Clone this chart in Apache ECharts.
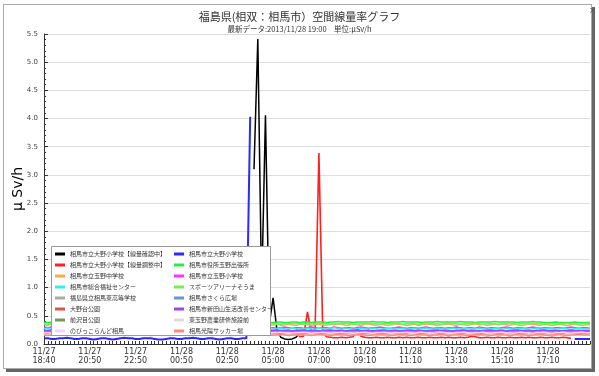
<!DOCTYPE html>
<html><head><meta charset="utf-8">
<script src="https://cdn.jsdelivr.net/npm/echarts@6/dist/echarts.min.js"></script>
<style>
html,body{margin:0;padding:0;background:#fff;width:599px;height:376px;overflow:hidden;}
#frame{position:absolute;left:3px;top:4px;width:587px;height:363px;border:1px solid #aaa;box-shadow:3px 3px 0 #666;background:#fff;}
#c{position:absolute;left:0;top:0;width:599px;height:376px;}
</style></head>
<body><div id="frame"></div><div id="c"></div>
<script>
const times = [
'11/27 18:40','11/27 18:50','11/27 19:00','11/27 19:10','11/27 19:20','11/27 19:30','11/27 19:40','11/27 20:00','11/27 20:10','11/27 20:20','11/27 20:30','11/27 20:40',
'11/27 20:50','11/27 21:00','11/27 21:10','11/27 21:20','11/27 21:30','11/27 21:40','11/27 21:50','11/27 22:00','11/27 22:10','11/27 22:20','11/27 22:30','11/27 22:40',
'11/27 22:50','11/27 23:00','11/27 23:10','11/27 23:20','11/27 23:30','11/27 23:40','11/27 23:50','11/28 00:00','11/28 00:10','11/28 00:20','11/28 00:30','11/28 00:40',
'11/28 00:50','11/28 01:00','11/28 01:10','11/28 01:20','11/28 01:30','11/28 01:40','11/28 01:50','11/28 02:00','11/28 02:10','11/28 02:20','11/28 02:30','11/28 02:40',
'11/28 02:50','11/28 03:00','11/28 03:10','11/28 03:20','11/28 03:30','11/28 03:40','11/28 03:50','11/28 04:10','11/28 04:20','11/28 04:30','11/28 04:40','11/28 04:50',
'11/28 05:00','11/28 05:10','11/28 05:20','11/28 05:30','11/28 05:40','11/28 05:50','11/28 06:00','11/28 06:10','11/28 06:20','11/28 06:30','11/28 06:40','11/28 06:50',
'11/28 07:00','11/28 07:10','11/28 07:20','11/28 07:30','11/28 07:40','11/28 07:50','11/28 08:10','11/28 08:20','11/28 08:30','11/28 08:40','11/28 08:50','11/28 09:00',
'11/28 09:10','11/28 09:20','11/28 09:30','11/28 09:40','11/28 09:50','11/28 10:00','11/28 10:10','11/28 10:20','11/28 10:30','11/28 10:40','11/28 10:50','11/28 11:00',
'11/28 11:10','11/28 11:20','11/28 11:30','11/28 11:40','11/28 11:50','11/28 12:00','11/28 12:10','11/28 12:20','11/28 12:30','11/28 12:40','11/28 12:50','11/28 13:00',
'11/28 13:10','11/28 13:20','11/28 13:30','11/28 13:40','11/28 13:50','11/28 14:00','11/28 14:10','11/28 14:20','11/28 14:30','11/28 14:40','11/28 14:50','11/28 15:00',
'11/28 15:10','11/28 15:20','11/28 15:30','11/28 15:40','11/28 15:50','11/28 16:00','11/28 16:10','11/28 16:20','11/28 16:30','11/28 16:40','11/28 16:50','11/28 17:00',
'11/28 17:10','11/28 17:20','11/28 17:30','11/28 17:40','11/28 17:50','11/28 18:00','11/28 18:10','11/28 18:20','11/28 18:30','11/28 18:40','11/28 18:50','11/28 19:00'
];

// 相馬市立大野小学校【線量確認中】 (starts at index 55)
const blackStart = 55;
const black = [3.10,5.41,0.90,4.06,0.35,0.82,0.25,0.12,0.09,0.08,0.09,0.12,0.20];
// 相馬市立大野小学校 : head (index 0-54), gap, tail (index 139-143)
const blueHead = [
.10,.10,.09,.09,.10,.10,.11,.10,.09,.09,.10,.10,
.09,.08,.09,.10,.10,.09,.08,.09,.10,.11,.10,.10,
.09,.09,.10,.10,.10,.09,.08,.08,.09,.10,.10,.09,
.09,.10,.10,.11,.10,.09,.09,.10,.10,.09,.08,.09,
.10,.10,.09,.09,.10,.10,4.03];
const blueTail = [.09,.09,.09,.09,.09];
// 相馬市立大野小学校【線量調整中】 (index 66-138)
const redStart = 66;
const red = [
.28,.13,.14,.57,.20,.25,3.39,.22,
.13,.12,.11,.11,.12,.11,.12,.13,.30,.14,.12,.11,
.11,.12,.11,.11,.12,.11,.11,.12,.11,.12,.11,.11,
.12,.11,.11,.12,.11,.11,.12,.11,.12,.11,.11,.12,
.11,.12,.14,.13,.11,.11,.12,.11,.11,.12,.11,.11,
.12,.11,.11,.12,.11,.12,.11,.11,.12,.11,.11,.12,
.11,.11,.12,.11,.10];

const tamanoOffice = [
.38,.38,.39,.38,.38,.37,.38,.38,.39,.38,.38,.38,
.38,.39,.38,.38,.38,.39,.38,.37,.38,.38,.39,.38,
.38,.38,.38,.39,.38,.38,.38,.37,.38,.38,.38,.39,
.38,.38,.39,.38,.38,.38,.37,.38,.38,.39,.38,.38,
.38,.38,.38,.39,.38,.38,.39,.38,.38,.38,.39,.38,
.38,.39,.39,.38,.38,.39,.39,.38,.39,.39,.38,.39,
.39,.39,.38,.39,.39,.40,.39,.39,.39,.38,.39,.39,
.39,.39,.40,.39,.39,.39,.38,.39,.39,.39,.40,.39,
.39,.39,.39,.38,.39,.39,.39,.40,.39,.39,.39,.39,
.39,.40,.39,.39,.39,.38,.39,.39,.39,.39,.40,.39,
.39,.39,.39,.39,.38,.39,.39,.39,.40,.39,.39,.38,
.38,.38,.39,.38,.38,.38,.38,.39,.38,.38,.38,.38];
const sportsArena = [
.36,.35,.36,.36,.35,.36,.36,.37,.36,.35,.36,.36,
.36,.36,.35,.36,.37,.36,.36,.35,.36,.36,.36,.37,
.36,.35,.36,.36,.36,.35,.36,.37,.36,.36,.35,.36,
.36,.36,.37,.36,.35,.36,.36,.36,.35,.36,.37,.36,
.36,.35,.36,.36,.37,.36,.36,.35,.36,.36,.37,.36,
.36,.36,.35,.36,.36,.37,.36,.36,.35,.36,.36,.36,
.37,.36,.36,.35,.36,.36,.36,.37,.36,.36,.35,.36,
.36,.37,.36,.36,.35,.36,.36,.36,.37,.36,.35,.36,
.36,.36,.35,.36,.37,.36,.36,.36,.35,.36,.36,.37,
.36,.35,.36,.36,.36,.37,.36,.35,.36,.36,.36,.35,
.36,.36,.37,.36,.35,.36,.36,.36,.37,.36,.36,.35,
.36,.36,.35,.36,.36,.37,.36,.36,.35,.36,.36,.36];
const tamanoJHS = [
.34,.33,.35,.34,.32,.33,.35,.34,.33,.34,.36,.34,
.33,.34,.35,.33,.32,.34,.35,.34,.33,.35,.34,.33,
.34,.35,.33,.32,.34,.35,.36,.34,.33,.34,.35,.33,
.34,.33,.35,.34,.33,.32,.34,.35,.34,.33,.34,.35,
.33,.34,.35,.34,.33,.34,.35,.33,.34,.36,.34,.33,
.34,.35,.33,.34,.35,.34,.33,.35,.36,.34,.33,.34,
.35,.34,.33,.35,.34,.36,.35,.33,.34,.35,.34,.33,
.35,.36,.34,.33,.35,.34,.33,.34,.36,.35,.34,.33,
.34,.35,.33,.34,.36,.35,.34,.33,.34,.35,.36,.34,
.33,.35,.34,.33,.35,.36,.34,.35,.33,.34,.35,.34,
.36,.34,.33,.35,.34,.33,.34,.36,.35,.34,.33,.35,
.34,.33,.34,.35,.34,.33,.34,.35,.34,.33,.34,.34];
const tamanoES = [
.30,.29,.30,.30,.29,.30,.31,.30,.29,.30,.30,.29,
.30,.30,.29,.30,.31,.30,.29,.30,.29,.30,.30,.31,
.30,.29,.30,.30,.29,.28,.30,.30,.31,.30,.29,.30,
.29,.30,.30,.31,.30,.29,.30,.29,.30,.30,.29,.30,
.30,.31,.30,.29,.30,.30,.29,.30,.30,.29,.28,.29,
.29,.28,.29,.30,.29,.28,.29,.29,.28,.29,.30,.29,
.28,.29,.29,.28,.30,.29,.28,.29,.29,.28,.29,.30,
.29,.28,.29,.29,.30,.29,.28,.28,.29,.30,.29,.28,
.29,.29,.28,.29,.30,.29,.28,.29,.29,.28,.29,.29,
.30,.29,.28,.29,.29,.28,.30,.29,.28,.29,.29,.28,
.29,.30,.29,.28,.29,.29,.28,.29,.30,.29,.28,.29,
.29,.28,.29,.29,.28,.29,.30,.29,.28,.29,.29,.28];
const welfare = [
.27,.28,.26,.27,.28,.27,.26,.28,.27,.26,.27,.28,
.27,.26,.28,.27,.26,.27,.28,.27,.26,.27,.28,.26,
.27,.28,.27,.26,.27,.28,.27,.26,.28,.27,.26,.27,
.28,.27,.26,.27,.28,.27,.26,.27,.28,.26,.27,.28,
.27,.26,.28,.27,.26,.27,.28,.27,.26,.27,.29,.27,
.26,.27,.28,.27,.26,.28,.27,.26,.27,.28,.27,.26,
.28,.27,.26,.27,.29,.27,.26,.28,.27,.26,.27,.28,
.27,.26,.28,.27,.26,.27,.28,.27,.26,.27,.28,.26,
.27,.28,.26,.27,.28,.27,.26,.28,.27,.26,.27,.28,
.27,.26,.27,.28,.26,.27,.28,.27,.26,.27,.28,.27,
.26,.28,.27,.26,.27,.28,.27,.26,.27,.28,.26,.27,
.28,.27,.26,.27,.28,.27,.26,.27,.28,.27,.26,.27];
const lifeCenter = [
.24,.24,.25,.24,.24,.23,.24,.24,.25,.24,.24,.24,
.24,.25,.24,.24,.23,.24,.24,.25,.24,.24,.24,.23,
.24,.24,.25,.24,.24,.24,.23,.24,.24,.25,.24,.24,
.24,.23,.24,.24,.25,.24,.24,.24,.23,.24,.24,.25,
.24,.24,.24,.23,.24,.24,.25,.24,.24,.24,.23,.24,
.24,.25,.24,.24,.24,.23,.24,.24,.25,.24,.24,.24,
.23,.24,.24,.25,.24,.24,.24,.23,.24,.24,.25,.24,
.24,.24,.23,.24,.24,.25,.24,.24,.24,.23,.24,.24,
.25,.24,.24,.24,.23,.24,.24,.25,.24,.24,.24,.23,
.24,.24,.25,.24,.24,.24,.23,.24,.24,.25,.24,.24,
.24,.23,.24,.24,.25,.24,.24,.24,.23,.24,.24,.25,
.24,.24,.24,.23,.24,.24,.25,.24,.24,.24,.23,.24];
const plaza = [
.23,.23,.22,.23,.24,.23,.23,.22,.23,.23,.24,.23,
.23,.22,.23,.23,.24,.23,.22,.23,.23,.23,.24,.23,
.22,.23,.23,.24,.23,.23,.22,.23,.24,.23,.23,.22,
.23,.24,.23,.23,.22,.23,.23,.24,.23,.22,.23,.23,
.24,.23,.23,.22,.23,.24,.23,.23,.22,.23,.23,.24,
.23,.23,.22,.23,.24,.23,.23,.23,.22,.23,.24,.23,
.23,.22,.23,.23,.24,.23,.22,.23,.23,.24,.23,.23,
.22,.23,.24,.23,.23,.22,.23,.23,.24,.23,.23,.22,
.23,.23,.24,.23,.22,.23,.23,.24,.23,.23,.22,.23,
.24,.23,.23,.22,.23,.23,.24,.23,.22,.23,.23,.24,
.23,.22,.23,.24,.23,.23,.22,.23,.23,.24,.23,.23,
.22,.23,.23,.24,.23,.22,.23,.23,.24,.23,.23,.23];
const higashiHS = [
.21,.21,.22,.21,.20,.21,.21,.22,.21,.21,.20,.21,
.22,.21,.21,.20,.21,.22,.21,.21,.21,.20,.21,.22,
.21,.20,.21,.21,.22,.21,.21,.20,.21,.21,.22,.21,
.20,.21,.22,.21,.21,.20,.21,.21,.22,.21,.20,.21,
.21,.22,.21,.20,.21,.21,.22,.21,.21,.20,.21,.22,
.21,.21,.20,.21,.22,.21,.21,.21,.20,.21,.22,.21,
.21,.20,.21,.22,.21,.21,.20,.21,.21,.22,.21,.21,
.20,.21,.22,.21,.21,.20,.21,.22,.21,.21,.21,.20,
.21,.22,.21,.20,.21,.21,.22,.21,.20,.21,.21,.22,
.21,.21,.20,.21,.22,.21,.21,.20,.21,.22,.21,.21,
.20,.21,.21,.22,.21,.20,.21,.21,.22,.21,.21,.20,
.21,.22,.21,.21,.20,.21,.22,.21,.21,.20,.21,.21];
const nobikko = [
.20,.20,.19,.20,.21,.20,.20,.19,.20,.20,.21,.20,
.19,.20,.20,.21,.20,.19,.20,.20,.20,.21,.20,.19,
.20,.21,.20,.20,.19,.20,.20,.21,.20,.19,.20,.20,
.21,.20,.19,.20,.20,.21,.20,.20,.19,.20,.21,.20,
.20,.19,.20,.21,.20,.20,.19,.20,.20,.21,.20,.19,
.20,.20,.21,.20,.19,.20,.20,.20,.21,.20,.19,.20,
.20,.21,.20,.19,.20,.20,.21,.20,.20,.19,.20,.20,
.21,.20,.19,.20,.20,.21,.20,.19,.20,.20,.20,.21,
.20,.19,.20,.21,.20,.20,.19,.20,.21,.20,.20,.19,
.20,.20,.21,.20,.19,.20,.20,.21,.20,.19,.20,.20,
.21,.20,.20,.19,.20,.21,.20,.20,.19,.20,.20,.21,
.20,.19,.20,.20,.21,.20,.19,.20,.20,.21,.20,.20];
const onodaiPark = [
.19,.18,.19,.19,.20,.19,.18,.19,.19,.20,.19,.19,
.18,.19,.20,.19,.19,.18,.19,.19,.20,.19,.18,.19,
.19,.20,.19,.18,.19,.19,.20,.19,.19,.18,.19,.20,
.19,.19,.18,.19,.20,.19,.19,.18,.19,.19,.20,.19,
.18,.19,.19,.20,.19,.18,.19,.19,.20,.19,.19,.18,
.19,.20,.19,.19,.18,.19,.19,.20,.19,.18,.19,.19,
.20,.19,.18,.19,.19,.20,.19,.19,.18,.19,.20,.19,
.19,.18,.19,.20,.19,.19,.18,.19,.19,.20,.19,.18,
.19,.19,.20,.19,.18,.19,.19,.20,.19,.19,.18,.19,
.20,.19,.19,.18,.19,.20,.19,.18,.19,.19,.20,.19,
.19,.18,.19,.19,.20,.19,.18,.19,.20,.19,.19,.18,
.19,.20,.19,.18,.19,.19,.20,.19,.19,.18,.19,.19];
const maesawa = [
.18,.17,.18,.18,.19,.18,.17,.18,.18,.18,.19,.18,
.17,.18,.19,.18,.18,.17,.18,.18,.19,.18,.18,.17,
.18,.18,.19,.18,.17,.18,.18,.19,.18,.18,.17,.18,
.19,.18,.18,.17,.18,.19,.18,.18,.17,.18,.18,.19,
.18,.17,.18,.18,.19,.18,.17,.18,.18,.19,.18,.18,
.17,.18,.18,.19,.18,.18,.17,.18,.19,.18,.18,.17,
.18,.19,.18,.17,.18,.18,.19,.18,.18,.17,.18,.18,
.19,.18,.17,.18,.18,.19,.18,.18,.17,.18,.19,.18,
.18,.17,.18,.19,.18,.18,.17,.18,.18,.19,.18,.17,
.18,.18,.19,.18,.17,.18,.18,.19,.18,.18,.17,.18,
.19,.18,.18,.17,.18,.19,.18,.18,.17,.18,.18,.19,
.18,.17,.18,.18,.19,.18,.18,.17,.18,.18,.19,.18];
const higashiTamano = [
.17,.17,.16,.17,.18,.17,.17,.16,.17,.17,.17,.18,
.17,.16,.17,.17,.18,.17,.16,.17,.17,.18,.17,.17,
.16,.17,.18,.17,.17,.16,.17,.17,.18,.17,.16,.17,
.17,.18,.17,.16,.17,.17,.17,.18,.17,.16,.17,.17,
.18,.17,.17,.16,.17,.18,.17,.17,.16,.17,.17,.18,
.17,.16,.17,.17,.18,.17,.17,.16,.17,.17,.18,.17,
.16,.17,.17,.18,.17,.16,.17,.17,.17,.18,.17,.16,
.17,.17,.18,.17,.16,.17,.17,.18,.17,.17,.16,.17,
.18,.17,.16,.17,.17,.18,.17,.16,.17,.17,.18,.17,
.17,.16,.17,.18,.17,.17,.16,.17,.18,.17,.17,.16,
.17,.18,.17,.17,.16,.17,.17,.18,.17,.16,.17,.17,
.18,.17,.16,.17,.17,.18,.17,.17,.16,.17,.17,.17];
const soccer = [
.16,.15,.16,.16,.17,.16,.15,.16,.16,.17,.16,.16,
.15,.16,.17,.16,.16,.15,.16,.16,.17,.16,.15,.16,
.16,.17,.16,.16,.15,.16,.17,.16,.16,.15,.16,.16,
.17,.16,.15,.16,.16,.17,.16,.16,.15,.16,.16,.17,
.16,.15,.16,.17,.16,.16,.15,.16,.17,.16,.16,.15,
.16,.16,.17,.16,.15,.16,.16,.17,.16,.16,.15,.16,
.17,.16,.16,.15,.16,.17,.16,.16,.15,.16,.16,.17,
.16,.15,.16,.16,.17,.16,.16,.15,.16,.17,.16,.16,
.15,.16,.17,.16,.16,.15,.16,.16,.17,.16,.15,.16,
.16,.17,.16,.15,.16,.16,.17,.16,.16,.15,.16,.17,
.16,.16,.15,.16,.17,.16,.16,.15,.16,.16,.17,.16,
.15,.16,.16,.17,.16,.15,.16,.16,.17,.16,.16,.16];

const N = times.length;
function pad(start, vals){ const a = new Array(N).fill(null); vals.forEach((v,i)=>{ if(start+i<N) a[start+i]=v; }); return a; }
const blueData = pad(0, blueHead); blueTail.forEach((v,i)=>{ blueData[N-blueTail.length+i]=v; });

const seriesDefs = [
 {name:'相馬市立大野小学校【線量確認中】', color:'#000000', data:pad(blackStart, black), w:1.5},
 {name:'相馬市立大野小学校', color:'#2a2aff', data:blueData, w:2},
 {name:'相馬市立大野小学校【線量調整中】', color:'#ff2020', data:pad(redStart, red), w:1.6},
 {name:'相馬市役所玉野出張所', color:'#22ee44', data:tamanoOffice, w:1.5},
 {name:'相馬市立玉野中学校', color:'#ffaa44', data:tamanoJHS, w:1.5},
 {name:'相馬市立玉野小学校', color:'#ff33ff', data:tamanoES, w:1.5},
 {name:'相馬市総合福祉センター', color:'#33eeee', data:welfare, w:1.5},
 {name:'スポーツアリーナそうま', color:'#77ee55', data:sportsArena, w:1.5},
 {name:'福島県立相馬東高等学校', color:'#aaaaaa', data:higashiHS, w:1.5},
 {name:'相馬市さくら広場', color:'#6699cc', data:plaza, w:1.5},
 {name:'大野台公園', color:'#dd5544', data:onodaiPark, w:1.5},
 {name:'相馬市新田山生活改善センター', color:'#9944ff', data:lifeCenter, w:1.5},
 {name:'前沢目公園', color:'#779955', data:maesawa, w:1.5},
 {name:'東玉野農業研修施設前', color:'#dddddd', data:higashiTamano, w:1.5},
 {name:'のびっこらんど相馬', color:'#ffccff', data:nobikko, w:1.5},
 {name:'相馬光陽サッカー場', color:'#ff8877', data:soccer, w:1.5}
];
const leftNames = [0,2,4,6,8,10,12,14].map(i=>seriesDefs[i].name);
const rightNames = [1,3,5,7,9,11,13,15].map(i=>seriesDefs[i].name);

const FONT = '"Noto Sans CJK JP", "DejaVu Sans", sans-serif';
const chart = echarts.init(document.getElementById('c'), null, {renderer:'canvas'});
const legendBase = {orient:'vertical', top:249.5, itemWidth:10, itemHeight:3, itemGap:2, icon:'rect', padding:0,
  textStyle:{fontSize:6, color:'#333', fontFamily:FONT, lineHeight:9}, zlevel:1, z:5};
chart.setOption({
  animation:false,
  backgroundColor:'transparent',
  textStyle:{fontFamily:FONT},
  title:{text:'福島県(相双：相馬市）空間線量率グラフ', subtext:'最新データ:2013/11/28 19:00　単位:μSv/h',
    left:'center', top:6, itemGap:3,
    textStyle:{fontSize:11, fontWeight:'normal', color:'#333', fontFamily:FONT},
    subtextStyle:{fontSize:7.5, color:'#333', fontFamily:FONT}},
  grid:{left:44, right:9, top:34, bottom:32, outerBoundsMode:'none', containLabel:false},
  legend:[Object.assign({data:leftNames, left:55}, legendBase), Object.assign({data:rightNames, left:174}, legendBase)],
  graphic:[
    {type:'rect', left:51, top:246, shape:{width:219, height:89}, style:{fill:'#fff', stroke:'#999', lineWidth:1}, zlevel:1, z:3},
    {type:'text', left:589, top:6, style:{text:'×', fontSize:9, fill:'#555', fontFamily:'DejaVu Sans'}, zlevel:1, z:6}
  ],
  xAxis:{type:'category', data:times, boundaryGap:false,
    axisLine:{lineStyle:{color:'#333', width:1}},
    axisTick:{show:true, inside:true, length:3, interval:0, lineStyle:{color:'#333'}},
    axisLabel:{interval:11, fontSize:8, color:'#333', lineHeight:8.5, margin:4, fontFamily:'DejaVu Sans',
      formatter:v=>v.replace(' ','\n')},
    splitLine:{show:false}},
  yAxis:{type:'value', min:0, max:5.5, interval:0.5,
    name:'μ Sv/h', nameLocation:'middle', nameGap:19, nameRotate:90, nameMoveOverlap:false,
    nameTextStyle:{fontSize:14, color:'#000', fontFamily:'DejaVu Sans'},
    axisLine:{show:true, lineStyle:{color:'#333'}},
    axisTick:{show:true, inside:true, length:4, lineStyle:{color:'#333'}},
    minorTick:{show:true, splitNumber:5, length:2, lineStyle:{color:'#333'}},
    axisLabel:{fontSize:7, color:'#444', margin:6, fontFamily:'DejaVu Sans', formatter:v=>v.toFixed(1)},
    splitLine:{show:true, lineStyle:{color:'#ddd', width:1}}},
  series: seriesDefs.map(s=>({name:s.name, type:'line', data:s.data, symbol:'none', connectNulls:false,
    color:s.color, lineStyle:{color:s.color, width:s.w}, emphasis:{disabled:true}}))
});
</script></body></html>
